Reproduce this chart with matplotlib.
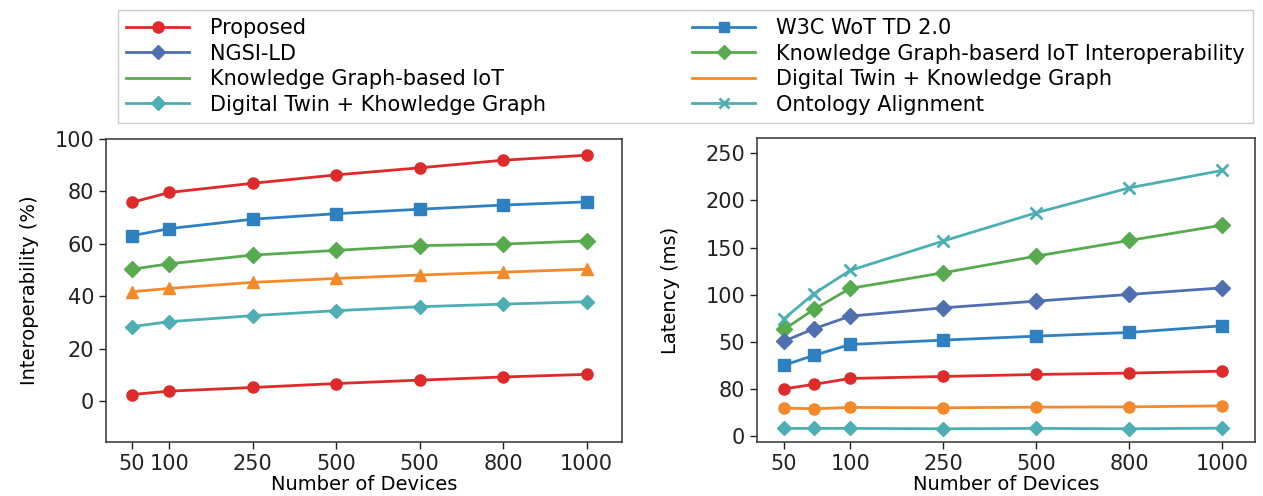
import matplotlib
matplotlib.use("Agg")
import matplotlib.pyplot as plt
from matplotlib.lines import Line2D

# ---- data ----
left_x = [-1.45, -1.0, 0, 1, 2, 3, 4]
left_xlabels = ["50", "100", "250", "500", "500", "800", "1000"]

interop_proposed = [75.8, 79.6, 83.1, 86.3, 89.0, 91.9, 93.8]
interop_w3c = [63.1, 65.8, 69.4, 71.5, 73.2, 74.8, 76.0]
interop_kg = [50.3, 52.4, 55.7, 57.5, 59.3, 59.9, 61.1]
interop_dt_kg = [41.7, 43.0, 45.3, 46.8, 48.1, 49.2, 50.3]
interop_dt_khow = [28.4, 30.3, 32.6, 34.5, 36.0, 37.0, 37.9]
interop_low = [2.5, 3.8, 5.2, 6.7, 8.0, 9.2, 10.2]

right_x = [-1.71, -1.39, -1.0, 0, 1, 2, 3]
right_xticks = [-1.71, -1.0, 0, 1, 2, 3]
right_xlabels = ["50", "100", "250", "500", "800", "1000"]

lat_ontology = [74.5, 101.0, 125.7, 156.8, 186.8, 213.2, 231.7]
lat_kg_interop = [63.2, 84.4, 106.7, 123.2, 140.9, 157.5, 173.7]
lat_ngsi = [50.8, 63.9, 77.3, 86.1, 93.2, 100.3, 107.3]
lat_w3c = [25.4, 35.7, 47.3, 51.9, 56.1, 60.0, 67.1]
lat_proposed = [0.3, 5.0, 11.3, 13.4, 15.5, 17.0, 19.0]
lat_dt_kg = [-20.1, -20.8, -19.4, -19.8, -19.1, -18.8, -17.7]
lat_dt_khow = [-41.6, -41.6, -41.6, -42.0, -41.6, -42.0, -41.3]

lat_yticks = [-50, 0, 50, 100, 150, 200, 250]
lat_ylabels = ["0", "80", "50", "100", "150", "200", "250"]

legend_labels = ["Proposed", "NGSI-LD", "Knowledge Graph-based IoT",
                 "Digital Twin + Khowledge Graph", "W3C WoT TD 2.0",
                 "Knowledge Graph-baserd IoT Interoperability",
                 "Digital Twin + Knowledge Graph", "Ontology Alignment"]

RED = "#de2a2a"
BLUE = "#2f80c0"
SLATE = "#4f6fb0"
GREEN = "#58aa4e"
ORANGE = "#f28a2c"
TEAL = "#4daeb3"

fig = plt.figure(figsize=(12.63, 4.96), dpi=100)
ax1 = fig.add_axes([0.0839, 0.1089, 0.4083, 0.6109])
ax2 = fig.add_axes([0.5994, 0.1089, 0.3943, 0.6129])

lw = 2.0
ms = 8

ax1.plot(left_x, interop_proposed, color=RED, marker="o", lw=lw, ms=ms)
ax1.plot(left_x, interop_w3c, color=BLUE, marker="s", lw=lw, ms=ms)
ax1.plot(left_x, interop_kg, color=GREEN, marker="D", lw=lw, ms=ms)
ax1.plot(left_x, interop_dt_kg, color=ORANGE, marker="^", lw=lw, ms=ms)
ax1.plot(left_x, interop_dt_khow, color=TEAL, marker="D", lw=lw, ms=ms - 1)
ax1.plot(left_x, interop_low, color=RED, marker="o", lw=lw, ms=ms)

ax1.set_xlim(-1.76, 4.42)
ax1.set_ylim(-15.6, 100)
ax1.set_xticks(left_x)
ax1.set_xticklabels(left_xlabels)
ax1.set_yticks([0, 20, 40, 60, 80, 100])
ax1.set_xlabel("Number of Devices", fontsize=14, labelpad=1)
ax1.set_ylabel("Interoperability (%)", fontsize=14,
               family=["Liberation Sans Narrow", "DejaVu Sans"], labelpad=11)

ax2.plot(right_x, lat_ontology, color=TEAL, marker="x", lw=lw, ms=ms, mew=2)
ax2.plot(right_x, lat_kg_interop, color=GREEN, marker="D", lw=lw, ms=ms)
ax2.plot(right_x, lat_ngsi, color=SLATE, marker="D", lw=lw, ms=ms)
ax2.plot(right_x, lat_w3c, color=BLUE, marker="s", lw=lw, ms=ms)
ax2.plot(right_x, lat_proposed, color=RED, marker="o", lw=lw, ms=ms)
ax2.plot(right_x, lat_dt_kg, color=ORANGE, marker="o", lw=lw, ms=ms)
ax2.plot(right_x, lat_dt_khow, color=TEAL, marker="D", lw=lw, ms=ms - 1)

ax2.set_xlim(-2.0, 3.35)
ax2.set_ylim(-56, 266)
ax2.set_xticks(right_xticks)
ax2.set_xticklabels(right_xlabels)
ax2.set_yticks(lat_yticks)
ax2.set_yticklabels(lat_ylabels)
ax2.set_xlabel("Number of Devices", fontsize=14, labelpad=1)
ax2.set_ylabel("Latency (ms)", fontsize=14,
               family=["Liberation Sans Narrow", "DejaVu Sans"], labelpad=18)

for ax in (ax1, ax2):
    ax.tick_params(labelsize=15, length=5, width=1, colors="#222222")
    for s in ax.spines.values():
        s.set_color("#333333")
        s.set_linewidth(1.1)

handles = [
    Line2D([], [], color=RED, marker="o", lw=lw, ms=ms),
    Line2D([], [], color=SLATE, marker="D", lw=lw, ms=ms - 1),
    Line2D([], [], color=GREEN, lw=lw),
    Line2D([], [], color=TEAL, marker="D", lw=lw, ms=ms - 1),
    Line2D([], [], color=BLUE, marker="s", lw=lw, ms=ms - 1),
    Line2D([], [], color=GREEN, marker="D", lw=lw, ms=ms - 1),
    Line2D([], [], color=ORANGE, lw=lw),
    Line2D([], [], color=TEAL, marker="x", lw=lw, ms=ms - 1, mew=2),
]
fig.legend(handles, legend_labels, ncol=2, loc="upper left",
           bbox_to_anchor=(0.0934, 0.748, 0.8986, 0.232), mode="expand",
           borderaxespad=0, fontsize=15, handlelength=3.0, handletextpad=1.0,
           labelspacing=0.26, borderpad=0.4, frameon=True, fancybox=False,
           edgecolor="#cccccc", framealpha=1.0)

fig.savefig("out.png", dpi=100)
